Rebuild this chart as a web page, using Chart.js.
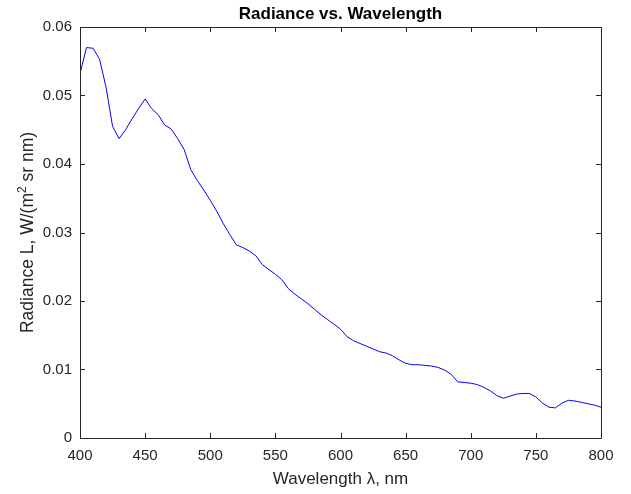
<!DOCTYPE html>
<html>
<head>
<meta charset="utf-8">
<script src="https://cdn.jsdelivr.net/npm/chart.js@4"></script>
<style>
  html, body { margin: 0; padding: 0; background: #fff; }
  #wrap { width: 631px; height: 494px; }
</style>
</head>
<body>
<div id="wrap"><canvas id="grafico" width="631" height="494"></canvas></div>
<script>
// datos (paso de 5 nm)
const longitudes = [];
for (let w = 400; w <= 800; w += 5) longitudes.push(w);

const radiancia = [
  0.0532, 0.0570, 0.0569, 0.0553, 0.0512, 0.0455, 0.0437, 0.0450, 0.0466, 0.0481,
  0.0495, 0.0481, 0.0472, 0.0457, 0.0451, 0.0437, 0.0421, 0.0392, 0.0376, 0.0362,
  0.0347, 0.0331, 0.0313, 0.0297, 0.0282, 0.0278, 0.0273, 0.0266, 0.0253, 0.0246,
  0.0239, 0.0231, 0.0218, 0.0210, 0.0203, 0.0196, 0.0188, 0.0180, 0.0173, 0.0166,
  0.0159, 0.0148, 0.0142, 0.0138, 0.0134, 0.0130, 0.0126, 0.0124, 0.0120, 0.0114,
  0.0109, 0.0107, 0.0107, 0.0106, 0.0105, 0.0103, 0.0099, 0.0093, 0.0082, 0.0081,
  0.0080, 0.0078, 0.0074, 0.0069, 0.0062, 0.0058, 0.0061, 0.0064, 0.0065, 0.0065,
  0.0060, 0.0051, 0.0045, 0.0044, 0.0051, 0.0055, 0.0054, 0.0052, 0.0050, 0.0048,
  0.0045
];

const ticksX = [400, 450, 500, 550, 600, 650, 700, 750, 800];
const ticksY = [0, 0.01, 0.02, 0.03, 0.04, 0.05, 0.06];

const colorEjes = '#262626';
const fuente = "'Liberation Sans', Arial, sans-serif";

// caja, marcas hacia dentro y etiqueta Y con superíndice (estilo MATLAB)
const cajaMatlab = {
  id: 'cajaMatlab',
  afterDraw(chart) {
    const { ctx, chartArea: a, scales } = chart;
    ctx.save();
    ctx.strokeStyle = colorEjes;
    ctx.lineWidth = 1;
    ctx.beginPath();
    ctx.rect(Math.round(a.left) + 0.5, Math.round(a.top) + 0.5,
             Math.round(a.right - a.left), Math.round(a.bottom - a.top));
    ctx.stroke();
    const largo = 5;
    ctx.beginPath();
    ticksX.forEach(v => {
      const x = Math.round(scales.x.getPixelForValue(v)) + 0.5;
      ctx.moveTo(x, a.bottom); ctx.lineTo(x, a.bottom - largo);
      ctx.moveTo(x, a.top); ctx.lineTo(x, a.top + largo);
    });
    ticksY.forEach(v => {
      const y = Math.round(scales.y.getPixelForValue(v)) + 0.5;
      ctx.moveTo(a.left, y); ctx.lineTo(a.left + largo, y);
      ctx.moveTo(a.right, y); ctx.lineTo(a.right - largo, y);
    });
    ctx.stroke();

    // etiqueta del eje Y
    const partes = [
      { t: 'Radiance L, W/(m', f: '17.5px ' + fuente, dy: 0 },
      { t: '2', f: '12px ' + fuente, dy: -7 },
      { t: ' sr nm)', f: '17.5px ' + fuente, dy: 0 }
    ];
    let total = 0;
    partes.forEach(p => { ctx.font = p.f; p.w = ctx.measureText(p.t).width; total += p.w; });
    ctx.translate(33, (a.top + a.bottom) / 2);
    ctx.rotate(-Math.PI / 2);
    ctx.fillStyle = colorEjes;
    ctx.textBaseline = 'alphabetic';
    ctx.textAlign = 'left';
    let x = -total / 2;
    partes.forEach(p => { ctx.font = p.f; ctx.fillText(p.t, x, p.dy); x += p.w; });
    ctx.restore();
  }
};

new Chart(document.getElementById('grafico'), {
  type: 'line',
  data: {
    datasets: [{
      data: longitudes.map((w, i) => ({ x: w, y: radiancia[i] })),
      borderColor: '#0000ff',
      borderWidth: 1,
      pointRadius: 0,
      tension: 0,
      fill: false
    }]
  },
  options: {
    responsive: false,
    animation: false,
    layout: { padding: { left: 0, right: 30, top: 0, bottom: 0 } },
    plugins: {
      legend: { display: false },
      tooltip: { enabled: false },
      title: {
        display: true,
        fullSize: false,
        text: 'Radiance vs. Wavelength',
        color: '#000',
        font: { family: fuente, size: 17, weight: 'bold', lineHeight: 1.2 },
        padding: { top: 4, bottom: 2.6 }
      }
    },
    scales: {
      x: {
        type: 'linear',
        min: 400,
        max: 800,
        afterFit: s => { s.height = 56; },
        afterBuildTicks: s => { s.ticks = ticksX.map(v => ({ value: v })); },
        grid: { display: false, drawTicks: false },
        border: { display: false },
        ticks: { color: colorEjes, padding: 9, font: { family: fuente, size: 15 }, maxRotation: 0 },
        title: {
          display: true,
          text: 'Wavelength λ, nm',
          color: colorEjes,
          font: { family: fuente, size: 17 },
          padding: { top: 2, bottom: 4 }
        }
      },
      y: {
        min: 0,
        max: 0.06,
        afterFit: s => { s.width = 80; },
        afterBuildTicks: s => { s.ticks = ticksY.map(v => ({ value: v })); },
        grid: { display: false, drawTicks: false },
        border: { display: false },
        ticks: {
          color: colorEjes,
          padding: 8,
          font: { family: fuente, size: 15 },
          callback: v => String(Math.round(v * 100) / 100)
        }
      }
    }
  },
  plugins: [cajaMatlab]
});
</script>
</body>
</html>
